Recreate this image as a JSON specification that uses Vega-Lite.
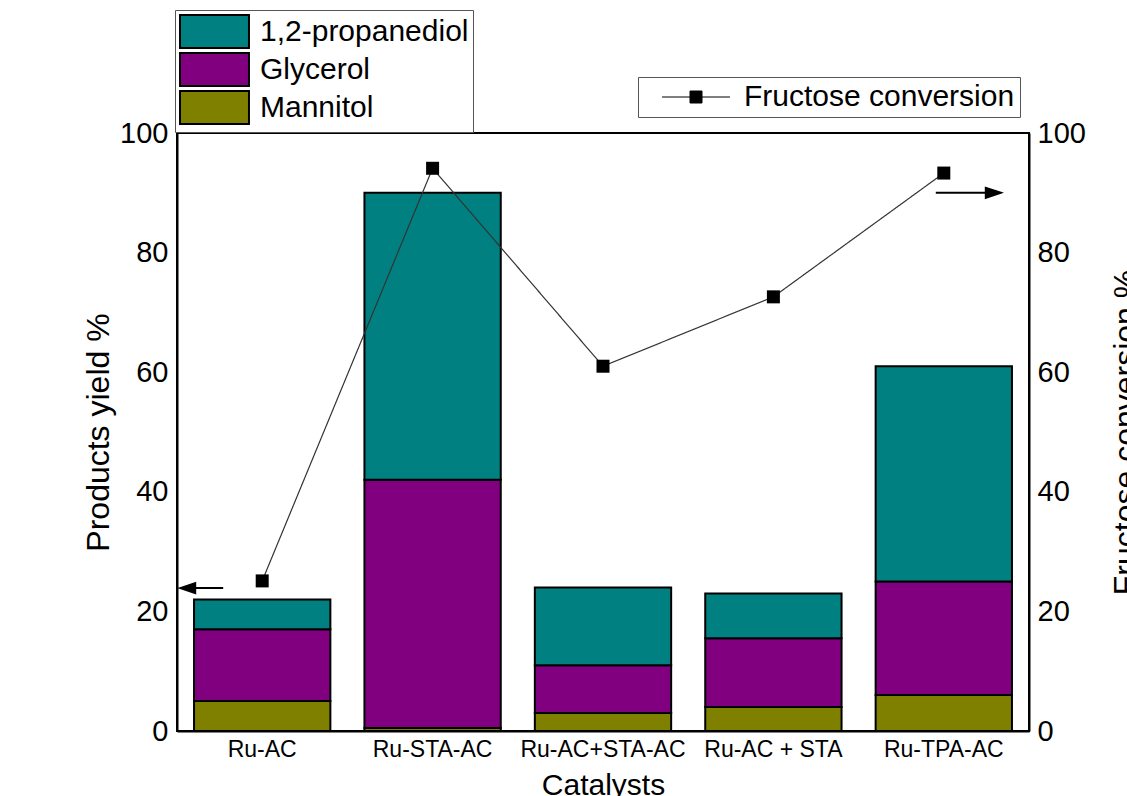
{
  "$schema": "https://vega.github.io/schema/vega-lite/v6.json",
  "width": 852,
  "height": 598,
  "autosize": {"type": "none"},
  "padding": {"left": 177, "top": 133, "right": 98, "bottom": 65},
  "background": "white",
  "config": {
    "font": "Liberation Sans",
    "view": {"stroke": "black", "strokeWidth": 2},
    "axis": {
      "domainColor": "black",
      "domainWidth": 2,
      "ticks": false,
      "grid": false,
      "labelColor": "black",
      "titleColor": "black",
      "labelFont": "Liberation Sans",
      "titleFont": "Liberation Sans",
      "titleFontWeight": "normal"
    },
    "legend": {
      "labelFont": "Liberation Sans",
      "labelColor": "black",
      "labelLimit": 0
    }
  },
  "datasets": {
    "products": [
      {"Catalyst": "Ru-AC", "product": "Mannitol", "order": 1, "yield": 5},
      {"Catalyst": "Ru-AC", "product": "Glycerol", "order": 2, "yield": 12},
      {"Catalyst": "Ru-AC", "product": "1,2-propanediol", "order": 3, "yield": 5},
      {"Catalyst": "Ru-STA-AC", "product": "Mannitol", "order": 1, "yield": 0.5},
      {"Catalyst": "Ru-STA-AC", "product": "Glycerol", "order": 2, "yield": 41.5},
      {"Catalyst": "Ru-STA-AC", "product": "1,2-propanediol", "order": 3, "yield": 48},
      {"Catalyst": "Ru-AC+STA-AC", "product": "Mannitol", "order": 1, "yield": 3},
      {"Catalyst": "Ru-AC+STA-AC", "product": "Glycerol", "order": 2, "yield": 8},
      {"Catalyst": "Ru-AC+STA-AC", "product": "1,2-propanediol", "order": 3, "yield": 13},
      {"Catalyst": "Ru-AC + STA", "product": "Mannitol", "order": 1, "yield": 4},
      {"Catalyst": "Ru-AC + STA", "product": "Glycerol", "order": 2, "yield": 11.5},
      {"Catalyst": "Ru-AC + STA", "product": "1,2-propanediol", "order": 3, "yield": 7.5},
      {"Catalyst": "Ru-TPA-AC", "product": "Mannitol", "order": 1, "yield": 6},
      {"Catalyst": "Ru-TPA-AC", "product": "Glycerol", "order": 2, "yield": 19},
      {"Catalyst": "Ru-TPA-AC", "product": "1,2-propanediol", "order": 3, "yield": 36}
    ],
    "conversion": [
      {"Catalyst": "Ru-AC", "series": "Fructose conversion", "conversion": 25.1},
      {"Catalyst": "Ru-STA-AC", "series": "Fructose conversion", "conversion": 94.1},
      {"Catalyst": "Ru-AC+STA-AC", "series": "Fructose conversion", "conversion": 61.0},
      {"Catalyst": "Ru-AC + STA", "series": "Fructose conversion", "conversion": 72.6},
      {"Catalyst": "Ru-TPA-AC", "series": "Fructose conversion", "conversion": 93.3}
    ],
    "arrows": [
      {"Catalyst": "Ru-AC", "dir": "left", "level": 23.9},
      {"Catalyst": "Ru-TPA-AC", "dir": "right", "level": 90.0}
    ]
  },
  "encoding": {
    "x": {
      "field": "Catalyst",
      "type": "nominal",
      "sort": ["Ru-AC", "Ru-STA-AC", "Ru-AC+STA-AC", "Ru-AC + STA", "Ru-TPA-AC"],
      "scale": {"paddingInner": 0.2, "paddingOuter": 0.1},
      "axis": {
        "labelAngle": 0,
        "labelFontSize": 23,
        "labelPadding": 7,
        "title": "Catalysts",
        "titleFontSize": 30,
        "titlePadding": 9
      }
    }
  },
  "layer": [
    {
      "data": {"name": "products"},
      "mark": {"type": "bar", "stroke": "black", "strokeWidth": 2, "opacity": 1},
      "encoding": {
        "y": {
          "field": "yield",
          "type": "quantitative",
          "stack": "zero",
          "scale": {"domain": [0, 100], "nice": false},
          "axis": {
            "values": [0, 20, 40, 60, 80, 100],
            "labelFontSize": 29,
            "labelPadding": 9,
            "title": "Products yield %",
            "titleFontSize": 32,
            "titlePadding": 4
          }
        },
        "color": {
          "field": "product",
          "type": "nominal",
          "scale": {
            "domain": ["1,2-propanediol", "Glycerol", "Mannitol"],
            "range": ["#008080", "#800080", "#808000"]
          },
          "legend": {
            "title": null,
            "orient": "none",
            "legendX": -2,
            "legendY": -123,
            "symbolType": "M-1,-1H3.18V1H-1Z",
            "symbolSize": 1089,
            "symbolStrokeColor": "black",
            "symbolStrokeWidth": 2,
            "symbolOpacity": 1,
            "labelFontSize": 30,
            "labelOffset": 46,
            "rowPadding": -4,
            "padding": 4,
            "strokeColor": "#555",
            "fillColor": "white"
          }
        },
        "order": {"field": "order", "type": "quantitative"}
      }
    },
    {
      "data": {"name": "conversion"},
      "mark": {"type": "line", "color": "#333", "strokeWidth": 1.2},
      "encoding": {
        "y": {
          "field": "conversion",
          "type": "quantitative",
          "scale": {"domain": [0, 100], "nice": false},
          "axis": {
            "orient": "right",
            "values": [0, 20, 40, 60, 80, 100],
            "labelFontSize": 29,
            "labelPadding": 8,
            "title": "Fructose conversion %",
            "titleFontSize": 32,
            "titleAngle": 270,
            "titleBaseline": "top",
            "titlePadding": 25
          }
        },
        "strokeDash": {
          "field": "series",
          "type": "nominal",
          "scale": {"range": [[1, 0]]},
          "legend": {
            "title": null,
            "orient": "none",
            "legendX": 461,
            "legendY": -56,
            "symbolType": "M0.4,0H3.2M4.4,0H7.2M3.2,-0.6H4.4V0.6H3.2Z",
            "symbolSize": 400,
            "symbolStrokeColor": "black",
            "symbolFillColor": "black",
            "symbolStrokeWidth": 1,
            "labelFontSize": 30,
            "labelOffset": 71,
            "padding": 5,
            "strokeColor": "#555",
            "fillColor": "white",
            "encode": {
              "symbols": {
                "update": {
                  "fill": {"value": "black"},
                  "stroke": {"value": "black"},
                  "strokeWidth": {"value": 1}
                }
              }
            }
          }
        }
      }
    },
    {
      "data": {"name": "conversion"},
      "mark": {"type": "point", "shape": "square", "filled": true, "color": "black", "size": 169, "opacity": 1},
      "encoding": {
        "y": {
          "field": "conversion",
          "type": "quantitative",
          "scale": {"domain": [0, 100], "nice": false},
          "axis": null
        }
      }
    },
    {
      "data": {"name": "arrows"},
      "mark": {"type": "point", "filled": true, "color": "black", "stroke": "black", "strokeWidth": 2, "size": 400, "opacity": 1},
      "encoding": {
        "y": {
          "field": "level",
          "type": "quantitative",
          "scale": {"domain": [0, 100], "nice": false},
          "axis": null
        },
        "shape": {
          "field": "dir",
          "type": "nominal",
          "scale": {
            "domain": ["left", "right"],
            "range": ["M-3.9,0H-7.5M-8.2,0L-6.7,-0.5L-6.7,0.5Z", "M-0.8,0H5.0M5.7,0L4.2,-0.5L4.2,0.5Z"]
          },
          "legend": null
        }
      }
    }
  ],
  "resolve": {"scale": {"y": "independent"}}
}
